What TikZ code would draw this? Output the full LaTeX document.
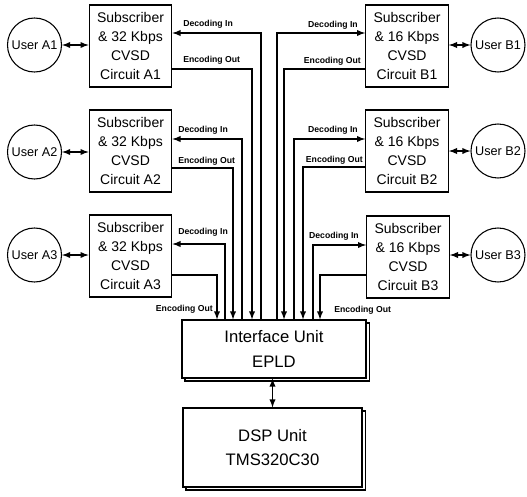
\documentclass[tikz,border=0pt]{standalone}
\usepackage{fontspec}
\setmainfont{Liberation Sans}
\usepackage{tikz}

\tikzset{
  subbox/.style={draw, line width=0.8pt, minimum width=62pt, minimum height=61.5pt, inner sep=0pt, align=center, font=\fontsize{10.5}{14.25}\selectfont},
  usr/.style={draw, circle, line width=0.8pt, minimum size=40.5pt, inner sep=0pt, font=\fontsize{9.5}{11}\selectfont},
  unitbox/.style={draw, fill=white, line width=0.8pt, inner sep=0pt, align=center, font=\fontsize{12.5}{18.5}\selectfont},
  sig/.style={line width=1.1pt, -latex},
  bi/.style={line width=1.1pt, latex-latex},
  lbl/.style={inner sep=0.75pt, font=\fontsize{6.5}{7}\bfseries\selectfont},
}

\begin{document}
\begin{tikzpicture}[x=0.75pt,y=0.75pt,yscale=-1,xscale=1]
\useasboundingbox (0,0) rectangle (527,496);

%Shape: Shadows of the two units
\draw [line width=1.2pt] (185,323) rectangle (369.5,381);
\draw [line width=1.2pt] (186,411) rectangle (365.5,490);

% Interface and DSP units
\node [unitbox, minimum width=138pt, minimum height=43.5pt] (ifu) at (274,349) {Interface Unit\\EPLD};
\node [unitbox, minimum width=134.25pt, minimum height=59.25pt] (dsp) at (272.5,447.5) {DSP Unit\\TMS320C30};

% Subscriber circuits, 32 Kbps side
\node [subbox] (a1) at (130.5,46) {Subscriber\\\& 32 Kbps\\CVSD\\Circuit A1};
\node [subbox] (a2) at (130.5,151) {Subscriber\\\& 32 Kbps\\CVSD\\Circuit A2};
\node [subbox] (a3) at (130.5,256) {Subscriber\\\& 32 Kbps\\CVSD\\Circuit A3};
% Subscriber circuits, 16 Kbps side
\node [subbox] (b1) at (407,46) {Subscriber\\\& 16 Kbps\\CVSD\\Circuit B1};
\node [subbox] (b2) at (407,151) {Subscriber\\\& 16 Kbps\\CVSD\\Circuit B2};
\node [subbox] (b3) at (408,257) {Subscriber\\\& 16 Kbps\\CVSD\\Circuit B3};

% Users
\node [usr] (ua1) at (34.5,45) {User A1};
\node [usr] (ua2) at (34.5,152) {User A2};
\node [usr] (ua3) at (34.5,255) {User A3};
\node [usr] (ub1) at (498,45) {User B1};
\node [usr] (ub2) at (498,151) {User B2};
\node [usr] (ub3) at (498,255) {User B3};

\draw [bi] (ua1.east) -- (a1.west |- ua1.east);
\draw [bi] (ua2.east) -- (a2.west |- ua2.east);
\draw [bi] (ua3.east) -- (a3.west |- ua3.east);
\draw [bi] (ub1.west) -- (b1.east |- ub1.west);
\draw [bi] (ub2.west) -- (b2.east |- ub2.west);
\draw [bi] (ub3.west) -- (b3.east |- ub3.west);
\draw [bi] (dsp.north) -- (dsp.north |- ifu.south);

% bend points of the decoding / encoding lines
\coordinate (ad1) at (261,33);   \coordinate (ae1) at (252,69);
\coordinate (ad2) at (242,139);  \coordinate (ae2) at (233,168);
\coordinate (ad3) at (225,244);  \coordinate (ae3) at (217,275);
\coordinate (bd1) at (277,33);   \coordinate (be1) at (284,69);
\coordinate (bd2) at (294,139);  \coordinate (be2) at (303,167);
\coordinate (bd3) at (313,245);  \coordinate (be3) at (320,275);

\draw [sig] (ifu.north -| ad1) |- (a1.east |- ad1);
\draw [sig] (a1.east |- ae1) -| (ifu.north -| ae1);
\draw [sig] (ifu.north -| ad2) |- (a2.east |- ad2);
\draw [sig] (a2.east |- ae2) -| (ifu.north -| ae2);
\draw [sig] (ifu.north -| ad3) |- (a3.east |- ad3);
\draw [sig] (a3.east |- ae3) -| (ifu.north -| ae3);
\draw [sig] (ifu.north -| bd1) |- (b1.west |- bd1);
\draw [sig] (b1.west |- be1) -| (ifu.north -| be1);
\draw [sig] (ifu.north -| bd2) |- (b2.west |- bd2);
\draw [sig] (b2.west |- be2) -| (ifu.north -| be2);
\draw [sig] (ifu.north -| bd3) |- (b3.west |- bd3);
\draw [sig] (b3.west |- be3) -| (ifu.north -| be3);

% Text Node
\node [lbl, anchor=west] (tad1) at (182,24) {Decoding In};
\node [lbl, anchor=west] (tae1) at (182,60) {Encoding Out};
\node [lbl, anchor=west] (tad2) at (177,130) {Decoding In};
\node [lbl, anchor=west] (tae2) at (177,161) {Encoding Out};
\node [lbl, anchor=west] (tad3) at (177,232) {Decoding In};
\node [lbl, anchor=east] (tae3) at (214,309) {Encoding Out};
\node [lbl, anchor=east] (tbd1) at (359,25) {Decoding In};
\node [lbl, anchor=east] (tbe1) at (362,61) {Encoding Out};
\node [lbl, anchor=east] (tbd2) at (359,130) {Decoding In};
\node [lbl, anchor=east] (tbe2) at (364,160) {Encoding Out};
\node [lbl, anchor=east] (tbd3) at (360,236) {Decoding In};
\node [lbl, anchor=west] (tbe3) at (333,310) {Encoding Out};
\end{tikzpicture}
\end{document}
